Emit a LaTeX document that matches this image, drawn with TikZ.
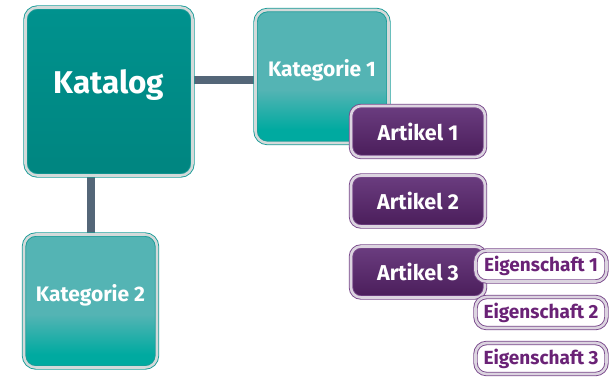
\documentclass[tikz,border=0pt]{standalone}
\usepackage{fontspec}
\setmainfont{Fira Sans}
\usetikzlibrary{backgrounds}
\definecolor{tealdark}{HTML}{00928E}
\definecolor{tealdarkB}{HTML}{008580}
\definecolor{teallight}{HTML}{54B4B4}
\definecolor{tealmid}{HTML}{00AAA0}
\definecolor{tealedge}{HTML}{1A9C98}
\definecolor{ringgray}{HTML}{D4DADA}
\definecolor{purptop}{HTML}{6B3D80}
\definecolor{purpbot}{HTML}{4A1D5A}
\definecolor{purpedge}{HTML}{7A4A8C}
\definecolor{purpring}{HTML}{DCD4E0}
\definecolor{purptext}{HTML}{6A2276}
\definecolor{connector}{HTML}{546678}
\pgfdeclareverticalshading{katshade}{100bp}{color(0bp)=(tealmid); color(30bp)=(tealmid); color(45bp)=(teallight); color(100bp)=(teallight)}
\tikzset{
  x=1pt, y=-1pt,
  boxbase/.style={rounded corners=12pt, draw, double, line width=0.9pt, double distance=2.6pt, text=white, font=\bfseries, inner sep=0pt},
  rootbox/.style={boxbase, draw=tealedge, double=ringgray, top color=tealdark, bottom color=tealdarkB, minimum width=167pt, minimum height=168pt, font=\bfseries\fontsize{31.5}{36}\selectfont},
  catbox/.style={boxbase, draw=tealedge, double=ringgray, shading=katshade, minimum width=133pt, minimum height=133pt, font=\bfseries\fontsize{21}{25}\selectfont},
  artbox/.style={boxbase, rounded corners=10pt, draw=purpedge, double=purpring, top color=purptop, bottom color=purpbot, minimum width=134pt, minimum height=51pt, font=\bfseries\fontsize{21.5}{25}\selectfont},
  propbox/.style={boxbase, rounded corners=11pt, draw=purpedge, double=purpring, fill=white, text=purptext, minimum width=131pt, minimum height=31pt, font=\bfseries\fontsize{19}{22}\selectfont},
  link/.style={draw=connector, line width=8.5pt}
}
\newcommand{\up}[2]{\raisebox{#1}[\height][\depth]{#2}}
\begin{document}
\begin{tikzpicture}
\useasboundingbox (0,0) rectangle (612,378);
\node[rootbox] (katalog) at (109,91.5) {\up{6pt}{Katalog}};
\node[catbox] (kat1) at (322,76.5) {\up{6pt}{Kategorie 1}};
\node[catbox] (kat2) at (90.5,301) {\up{6pt}{Kategorie 2}};
\node[artbox] (art1) at (418,131.5) {Artikel 1};
\node[artbox] (art2) at (418,201) {Artikel 2};
\node[artbox] (art3) at (418,272) {Artikel 3};
\node[propbox] (eig1) at (541,266) {Eigenschaft 1};
\node[propbox] (eig2) at (541,312.5) {Eigenschaft 2};
\node[propbox] (eig3) at (541,358.5) {Eigenschaft 3};
\begin{scope}[on background layer]
\draw[link] ([yshift=11.5pt]katalog.east) -- ([yshift=11.5pt]katalog.east -| kat1.west);
\draw[link] ([xshift=-18pt]katalog.south) -- ([xshift=-18pt]katalog.south |- kat2.north);
\end{scope}
\end{tikzpicture}
\end{document}
